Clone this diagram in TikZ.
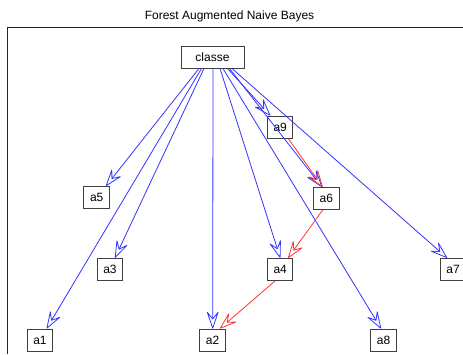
\documentclass[tikz,border=0pt]{standalone}
\usepackage{fontspec}
\setmainfont{Liberation Sans}
\usetikzlibrary{arrows.meta}
\begin{document}
\begin{tikzpicture}[x=1pt,y=-1pt,
  box/.style={draw=black!75,line width=1pt,inner sep=0pt,minimum width=25.5pt,minimum height=22pt,font=\fontsize{12}{14}\selectfont},
  tip/.style={-{Stealth[open,round,length=19pt,width=13pt,inset=8pt]}},
  blueedge/.style={tip,draw=blue!80,line width=0.8pt},
  rededge/.style={tip,draw=red!80,line width=0.8pt},
  frame/.style={draw=black!85,line width=1pt}]
\useasboundingbox (0,0) rectangle (463,354);
% title and frame
\node[font=\fontsize{12}{14}\selectfont,anchor=base] (title) at (229.5,19) {Forest Augmented Naive Bayes};
\coordinate (fbl) at (7,354);
\coordinate (ftl) at (7,27);
\coordinate (ftr) at (463,27);
\draw[frame] (fbl) -- (ftl) -- (ftr);
% nodes
\node[box,minimum width=63pt] (classe) at (212.5,57) {classe};
\node[box] (a9) at (280.2,127) {a9};
\node[box] (a6) at (326.3,198.5) {a6};
\node[box] (a5) at (96.7,197.5) {a5};
\node[box] (a3) at (110,269.3) {a3};
\node[box] (a4) at (280.2,269.3) {a4};
\node[box] (a7) at (453,269.3) {a7};
\node[box] (a1) at (40,340) {a1};
\node[box] (a2) at (212.5,340) {a2};
\node[box] (a8) at (383.5,340) {a8};
% blue edges from classe
\draw[blueedge] ([xshift=-13.5pt]classe.south) -- ([xshift=9.3pt]a5.north);
\draw[blueedge] ([xshift=-11pt]classe.south) -- ([xshift=6.7pt]a1.north);
\draw[blueedge] ([xshift=-8.5pt]classe.south) -- ([xshift=5pt]a3.north);
\draw[blueedge] ([xshift=0.5pt]classe.south) -- ([xshift=0.2pt]a2.north);
\draw[blueedge] ([xshift=7.5pt]classe.south) -- ([xshift=0pt]a4.north);
\draw[blueedge] ([xshift=10.5pt]classe.south) -- ([xshift=-2.5pt]a8.north);
\draw[blueedge] ([xshift=15pt]classe.south) -- ([xshift=-10pt]a9.north);
\draw[blueedge] ([xshift=17pt]classe.south) -- ([xshift=-4.3pt]a6.north);
\draw[blueedge] ([xshift=19.5pt]classe.south) -- ([xshift=-6pt]a7.north);
% red edges
\draw[rededge] ([xshift=8pt]a9.south) -- ([xshift=-3.6pt]a6.north);
\draw[rededge] ([xshift=-3.6pt]a6.south) -- ([xshift=8pt]a4.north);
\draw[rededge] ([xshift=-5pt]a4.south) -- ([xshift=7.5pt]a2.north);
\end{tikzpicture}
\end{document}
